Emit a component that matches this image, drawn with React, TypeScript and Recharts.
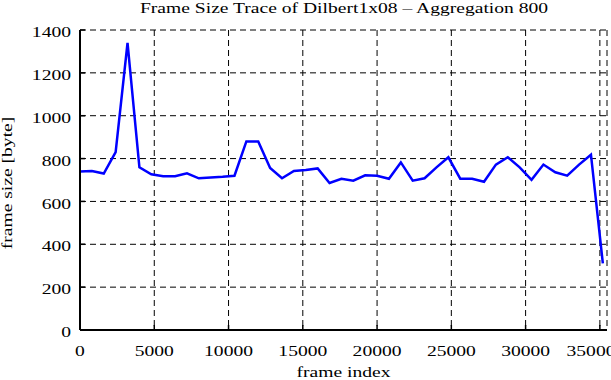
import { LineChart, Line, XAxis, YAxis, CartesianGrid } from 'recharts';

// Frame size trace, aggregated over 800 frames per point.

const frameIndex = [
  0, 800, 1600, 2400, 3200, 4000, 4800, 5600, 6400, 7200, 8000, 8800, 9600, 10400, 11200,
  12000, 12800, 13600, 14400, 15200, 16000, 16800, 17600, 18400, 19200, 20000, 20800, 21600,
  22400, 23200, 24000, 24800, 25600, 26400, 27200, 28000, 28800, 29600, 30400, 31200, 32000,
  32800, 33600, 34400, 35200,
];
const frameSize = [
  740, 742, 730, 830, 1340, 759, 727, 718, 718, 731, 708, 712, 715, 720, 880,
  880, 756, 708, 742, 747, 754, 686, 706, 697, 722, 720, 706, 782,
  697, 708, 759, 806, 706, 706, 692, 772, 806, 759, 701, 772, 736,
  720, 772, 818, 311,
];
const xTicks = [0, 5000, 10000, 15000, 20000, 25000, 30000, 35000];
const yTicks = [0, 200, 400, 600, 800, 1000, 1200, 1400];
const title = 'Frame Size Trace of Dilbert1x08 – Aggregation 800';

const data = frameIndex.map((f, i) => ({ frame: f, size: frameSize[i] }));

const FONT = '"Liberation Serif", "Times New Roman", serif';
const FS = 14.5;
const SX = 1.35; // the original glyphs are wide and short

function StretchText({
  x,
  y,
  anchor = 'middle',
  rotate = 0,
  dy,
  children,
}: {
  x: number;
  y: number;
  anchor?: 'start' | 'middle' | 'end';
  rotate?: number;
  dy?: string;
  children: any;
}) {
  return (
    <text
      transform={`translate(${x},${y}) rotate(${rotate}) scale(${SX},1)`}
      textAnchor={anchor}
      dy={dy}
      fontFamily={FONT}
      fontSize={FS}
      fill="#000"
    >
      {children}
    </text>
  );
}

const XTick = (p: any) => (
  <StretchText x={p.x} y={p.y} dy="0.35em">
    {p.payload.value}
  </StretchText>
);

const YTick = (p: any) => (
  <StretchText x={p.x} y={p.y + 2} anchor="end" dy="0.35em">
    {p.payload.value}
  </StretchText>
);

export default function App() {
  return (
    <div style={{ position: 'absolute', left: 0, top: 0, width: 611, height: 380, background: '#fff' }}>
      <LineChart width={611} height={380} data={data} margin={{ top: 30, right: 4, bottom: 0, left: 0 }}>
        <CartesianGrid stroke="#000" strokeWidth={1} strokeDasharray="6 4" />
        <XAxis
          dataKey="frame"
          type="number"
          domain={[0, 35480]}
          ticks={xTicks}
          allowDataOverflow
          height={50}
          tickSize={-5}
          tickMargin={26}
          tick={XTick}
          axisLine={{ stroke: '#000', strokeWidth: 2 }}
          tickLine={{ stroke: '#000', strokeWidth: 1.5 }}
          label={{
            content: (p: any) => (
              <StretchText x={p.viewBox.x + p.viewBox.width / 2} y={p.viewBox.y + 47}>
                frame index
              </StretchText>
            ),
          }}
        />
        <XAxis
          xAxisId="top"
          orientation="top"
          dataKey="frame"
          type="number"
          domain={[0, 35480]}
          ticks={xTicks}
          allowDataOverflow
          height={0}
          tickSize={-5}
          tick={false}
          axisLine={{ stroke: '#000', strokeWidth: 2 }}
          tickLine={{ stroke: '#000', strokeWidth: 1.5 }}
        />
        <YAxis
          type="number"
          domain={[0, 1400]}
          ticks={yTicks}
          width={80}
          tickSize={-5}
          tickMargin={14}
          tick={YTick}
          axisLine={{ stroke: '#000', strokeWidth: 2 }}
          tickLine={{ stroke: '#000', strokeWidth: 1.5 }}
          label={{
            content: (p: any) => (
              <StretchText x={p.viewBox.x + 12} y={p.viewBox.y + p.viewBox.height / 2 + 3} rotate={-90}>
                frame size [byte]
              </StretchText>
            ),
          }}
        />
        <YAxis
          yAxisId="right"
          orientation="right"
          type="number"
          domain={[0, 1400]}
          ticks={yTicks}
          width={0}
          tickSize={-5}
          tick={false}
          axisLine={{ stroke: '#000', strokeWidth: 2 }}
          tickLine={{ stroke: '#000', strokeWidth: 1.5 }}
        />
        <Line
          type="linear"
          dataKey="size"
          stroke="#0000ff"
          strokeWidth={2.5}
          dot={false}
          isAnimationActive={false}
        />
      </LineChart>
      <svg width={611} height={30} style={{ position: 'absolute', left: 0, top: 0 }}>
        <StretchText x={344} y={13}>
          {title}
        </StretchText>
      </svg>
    </div>
  );
}
